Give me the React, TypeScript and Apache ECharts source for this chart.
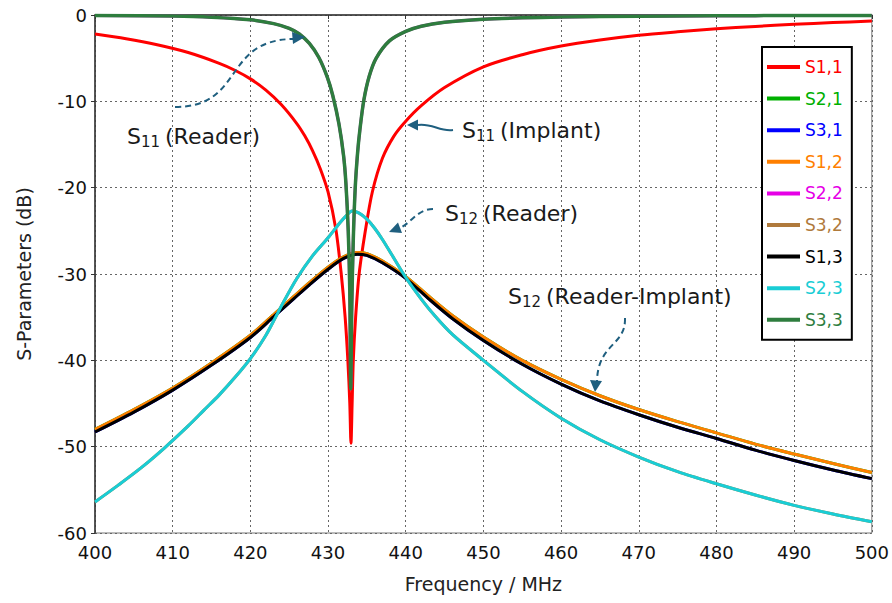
import React, { useEffect, useRef } from "react";
import * as echarts from "echarts";

// ---------- data ----------
const seriesNames = ["S1,1", "S2,1", "S3,1", "S1,2", "S2,2", "S3,2", "S1,3", "S2,3", "S3,3"];
const seriesColors = ["#ff0000", "#00b000", "#0000ff", "#ff7f00", "#e600e6", "#b07a3c", "#000000", "#19cdd5", "#2e7d3e"];

const xTicks = [400, 410, 420, 430, 440, 450, 460, 470, 480, 490, 500];
const yTicks = [-60, -50, -40, -30, -20, -10, 0];

// S11 (reader) - red
const freqS11 = [400, 404, 408, 412, 416, 418, 420, 422, 424, 426, 427, 428, 429, 430, 431, 431.7, 432.2, 432.55, 432.8, 432.95, 433.1, 433.25, 433.55, 434, 434.8, 435.7, 437, 438.5, 440, 442, 445, 450, 455, 460, 465, 470, 475, 480, 485, 490, 495, 500];
const valS11 = [-2.2, -2.75, -3.45, -4.35, -5.6, -6.4, -7.4, -8.7, -10.4, -12.6, -14.0, -15.7, -17.8, -20.5, -24.8, -30, -35, -40, -45, -49.6, -45, -40, -35, -30, -25, -20.5, -16.6, -14.0, -12.3, -10.5, -8.4, -6.0, -4.6, -3.6, -2.9, -2.35, -1.95, -1.6, -1.32, -1.08, -0.88, -0.7];

// S33 / S22 (implant) - narrow dip
const freqS33 = [400, 410, 415, 420, 423, 425, 426.3, 427.6, 428.8, 429.9, 430.6, 431.4, 432, 432.3, 432.6, 432.8, 432.92, 433.05, 433.25, 433.5, 433.8, 434.1, 434.6, 435.3, 436.2, 437.9, 440, 442, 445, 450, 455, 460, 470, 480, 490, 500];
const valS33 = [-0.05, -0.12, -0.25, -0.55, -1.0, -1.55, -2.2, -3.3, -4.9, -7.2, -9.3, -12.6, -16.3, -19.5, -25, -32, -43.3, -34, -26, -20, -16, -13.3, -9.9, -7.1, -5.0, -3.0, -1.9, -1.3, -0.85, -0.5, -0.33, -0.24, -0.14, -0.09, -0.06, -0.05];

// S23 (reader) - cyan
const freqS23 = [400, 403, 406, 409, 412, 414, 416, 418, 420, 422, 424, 426, 428, 430, 431.5, 432.3, 433.1, 434, 435, 436, 437, 438.5, 440, 442, 443.8, 446, 450, 455, 460, 465, 470, 475, 480, 485, 490, 495, 500];
const valS23 = [-56.4, -54.45, -52.4, -50.1, -47.6, -45.8, -44.0, -42.0, -39.8, -37.1, -33.7, -30.5, -27.9, -25.8, -24.1, -23.3, -22.7, -22.95, -23.65, -24.7, -26.0, -28.2, -30.4, -32.9, -34.9, -37.0, -40.0, -43.6, -46.7, -49.2, -51.2, -52.9, -54.3, -55.6, -56.8, -57.8, -58.7];

// S12 / S13 (reader-implant)
const freqS12 = [400, 405, 410, 415, 420, 423, 425.6, 427.6, 430, 432, 433.8, 435, 437, 440, 443, 446, 450, 455, 460, 465, 470, 475, 480, 485, 490, 495, 500];
const valS12 = [-48.0, -45.7, -43.2, -40.3, -37.1, -34.7, -32.6, -31.0, -29.2, -28.0, -27.5, -27.65, -28.5, -30.3, -32.6, -34.8, -37.3, -40.0, -42.2, -44.1, -45.7, -47.1, -48.4, -49.7, -50.85, -51.95, -53.0];
const valS13 = [-48.3, -46.0, -43.45, -40.55, -37.35, -34.95, -32.85, -31.25, -29.45, -28.2, -27.7, -27.85, -28.7, -30.5, -32.9, -35.15, -37.7, -40.45, -42.75, -44.7, -46.3, -47.75, -49.05, -50.4, -51.6, -52.7, -53.7];

const zip = (xs: number[], ys: number[]) => xs.map((x, i) => [x, ys[i]]);

const seriesData = [
  zip(freqS11, valS11), // S1,1
  zip(freqS12, valS12), // S2,1 (reciprocal of S1,2)
  zip(freqS12, valS13), // S3,1 (reciprocal of S1,3)
  zip(freqS12, valS12), // S1,2
  zip(freqS33, valS33), // S2,2
  zip(freqS23, valS23), // S3,2
  zip(freqS12, valS13), // S1,3
  zip(freqS23, valS23), // S2,3
  zip(freqS33, valS33), // S3,3
];

const ARROW = "#1f5f7f";
const TXT = "#1a1a1a";
const FONT = "DejaVu Sans";

function label(x: number, y: number, sub: string, rest: string) {
  return [
    { type: "text", z: 100, x, y, style: { text: "S", fontSize: 22, fontFamily: FONT, fill: TXT, verticalAlign: "middle" } },
    { type: "text", z: 100, x: x + 14, y: y + 6, style: { text: sub, fontSize: 15, fontFamily: FONT, fill: TXT, verticalAlign: "middle" } },
    { type: "text", z: 100, x: x + 38, y, style: { text: rest, fontSize: 22, fontFamily: FONT, fill: TXT, verticalAlign: "middle" } },
  ];
}

function curve(x1: number, y1: number, cpx1: number, cpy1: number, cpx2: number, cpy2: number, x2: number, y2: number, dashed: boolean) {
  return {
    type: "bezierCurve",
    z: 100,
    shape: { x1, y1, cpx1, cpy1, cpx2, cpy2, x2, y2 },
    style: { stroke: ARROW, lineWidth: 2, fill: null, lineDash: dashed ? [6, 4] : null },
  };
}

function head(points: number[][]) {
  return { type: "polygon", z: 100, shape: { points }, style: { fill: ARROW } };
}

export default function App() {
  const ref = useRef<HTMLDivElement>(null);
  useEffect(() => {
    if (!ref.current) return;
    const chart = echarts.init(ref.current, undefined, { renderer: "svg" });
    const option: any = {
      animation: false,
      backgroundColor: "#ffffff",
      grid: { left: 95, right: 17, top: 15, bottom: 70, show: true, borderColor: "#777", borderWidth: 1 },
      xAxis: {
        type: "value",
        min: xTicks[0],
        max: xTicks[xTicks.length - 1],
        interval: 10,
        name: "Frequency / MHz",
        nameLocation: "middle",
        nameGap: 41,
        nameTextStyle: { fontSize: 19, fontFamily: FONT, color: "#222" },
        axisLine: { lineStyle: { color: "#333", width: 1.5 } },
        axisTick: { show: true, length: 4, lineStyle: { color: "#333" } },
        axisLabel: { fontSize: 18, fontFamily: FONT, color: "#111", margin: 10 },
        splitLine: { show: true, lineStyle: { color: "#666", type: [2, 3], width: 1 } },
      },
      yAxis: {
        type: "value",
        min: yTicks[0],
        max: yTicks[yTicks.length - 1],
        interval: 10,
        name: "S-Parameters (dB)",
        nameLocation: "middle",
        nameGap: 62,
        nameTextStyle: { fontSize: 19, fontFamily: FONT, color: "#222" },
        axisLine: { show: true, lineStyle: { color: "#333", width: 1.5 } },
        axisTick: { show: true, length: 4, lineStyle: { color: "#333" } },
        axisLabel: { fontSize: 18, fontFamily: FONT, color: "#111", margin: 8 },
        splitLine: { show: true, lineStyle: { color: "#666", type: [2, 3], width: 1 } },
      },
      legend: {
        orient: "vertical",
        left: 762,
        top: 47,
        padding: [10, 9, 10, 5],
        itemWidth: 33,
        itemHeight: 4,
        itemGap: 11.6,
        icon: "rect",
        borderColor: "#000",
        borderWidth: 2,
        backgroundColor: "#fff",
        data: seriesNames.map((n, i) => ({
          name: n,
          textStyle: { color: seriesColors[i], fontSize: 17, fontFamily: FONT, lineHeight: 20 },
        })),
      },
      series: seriesNames.map((n, i) => ({
        name: n,
        type: "line",
        data: seriesData[i],
        showSymbol: false,
        symbol: "none",
        smooth: 0.3,
        lineStyle: { color: seriesColors[i], width: i === 8 ? 3.5 : 3 },
        itemStyle: { color: seriesColors[i] },
      })),
      graphic: [
        ...label(127, 136, "11", "(Reader)"),
        ...label(462, 130, "11", "(Implant)"),
        ...label(445, 213, "12", "(Reader)"),
        ...label(508, 296, "12", "(Reader-Implant)"),
        curve(175, 107, 245, 107, 222, 40, 293, 39, true),
        head([[305, 37], [292, 32], [293, 44]]),
        curve(453, 130, 440, 132, 432, 123, 418, 125, false),
        head([[407, 125], [418, 119.5], [418, 130.5]]),
        curve(433, 209, 418, 209, 412, 222, 400, 228, true),
        head([[389, 232], [398, 222.5], [402, 233]]),
        curve(625, 318, 626, 346, 598, 343, 597, 381, true),
        head([[595, 392], [590, 380], [602, 381]]),
      ],
    };
    chart.setOption(option);
    return () => chart.dispose();
  }, []);
  return <div ref={ref} style={{ position: "absolute", left: 0, top: 0, width: 892, height: 603 }} />;
}
